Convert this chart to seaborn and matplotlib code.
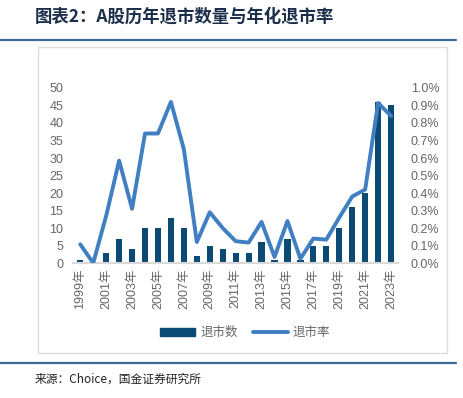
import numpy as np
import pandas as pd
import seaborn as sns
import matplotlib
matplotlib.use("Agg")
import matplotlib.pyplot as plt
from matplotlib.patches import Rectangle
from matplotlib.lines import Line2D
from matplotlib.ticker import FuncFormatter

# 数据
years = [str(y) for y in range(1999, 2024)]
delist_count = [1, 0, 3, 7, 4, 10, 10, 13, 10, 2, 5, 4, 3, 3, 6, 1, 7, 1, 5, 5, 10, 16, 20, 46, 45]
delist_rate = [0.107, 0.0, 0.27, 0.585, 0.31, 0.74, 0.74, 0.92, 0.65, 0.12, 0.29, 0.20, 0.125,
               0.117, 0.235, 0.035, 0.24, 0.025, 0.14, 0.134, 0.26, 0.38, 0.42, 0.914, 0.84]

BAR_C = "#0b4a73"
LINE_C = "#3f7fc2"
GRAY = "#666666"


def set_config():
    sns.set_theme(style="white")
    plt.rcParams["font.family"] = ["Liberation Sans", "Noto Sans CJK SC", "DejaVu Sans"]
    plt.rcParams["axes.unicode_minus"] = False


def main():
    set_config()
    df = pd.DataFrame({"year": years, "count": delist_count, "rate": delist_rate})
    df["pos"] = np.arange(len(df))

    fig = plt.figure(figsize=(4.63, 3.98), dpi=100)
    ax = fig.add_axes([0.158, 0.339, 0.702, 0.44])

    sns.barplot(data=df, x="pos", y="count", color=BAR_C, width=0.48,
                saturation=1, ax=ax, native_scale=True, linewidth=0)
    ax2 = ax.twinx()
    sns.lineplot(data=df, x="pos", y="rate", color=LINE_C, lw=2.8, ax=ax2)

    ax.set_xlim(-0.55, len(df) - 0.45)
    ax.set_ylim(0, 50)
    ax.set_yticks(range(0, 51, 5))
    ax2.set_ylim(0, 1.0)
    ax2.set_yticks(np.arange(0, 1.01, 0.1))
    ax2.yaxis.set_major_formatter(FuncFormatter(lambda v, p: f"{v:.1f}%"))

    ax.set_xticks(df["pos"][::2])
    ax.set_xticklabels([y + "年" for y in years[::2]], rotation=90)
    for a in (ax, ax2):
        a.set_xlabel("")
        a.set_ylabel("")
        for s in a.spines.values():
            s.set_visible(False)
        a.tick_params(labelsize=9, colors=GRAY, length=0)
        a.grid(False)
    ax.spines["bottom"].set_visible(True)
    ax.spines["bottom"].set_color("#d9d9d9")
    ax.spines["bottom"].set_linewidth(1.5)
    ax.tick_params(axis="y", pad=7)
    ax.tick_params(axis="x", pad=4)
    ax2.tick_params(axis="y", pad=9)

    handles = [Rectangle((0, 0), 1, 1, color=BAR_C),
               Line2D([0], [0], color=LINE_C, lw=2.8)]
    fig.legend(handles, ["退市数", "退市率"], loc="center", ncol=2,
               bbox_to_anchor=(0.53, 1 - 333 / 398), frameon=False,
               fontsize=9, handlelength=2.8, handleheight=0.6,
               columnspacing=1.2, handletextpad=0.4, labelcolor=GRAY)

    # 外框和分隔线
    fig.patches.append(Rectangle((38 / 463, 1 - 353 / 398), 409 / 463, 306 / 398,
                                 transform=fig.transFigure, fill=False,
                                 edgecolor="#dcdcdc", lw=1))
    for yy in (40, 363):
        fig.add_artist(Line2D([0, 0.985], [1 - yy / 398] * 2, color="#3a6b98", lw=1.6,
                              transform=fig.transFigure))

    fig.text(35 / 463, 1 - 17 / 398, "图表2：A股历年退市数量与年化退市率", fontsize=12.5,
             fontweight="bold", color="#1c2f4a", va="center", ha="left",
             family=["Noto Sans CJK SC"])
    fig.text(35 / 463, 1 - 379 / 398, "来源：Choice，国金证券研究所", fontsize=8.5,
             color="#222222", va="center", ha="left", family=["Noto Sans CJK SC"])

    fig.savefig("out.png", dpi=100)


if __name__ == "__main__":
    main()
